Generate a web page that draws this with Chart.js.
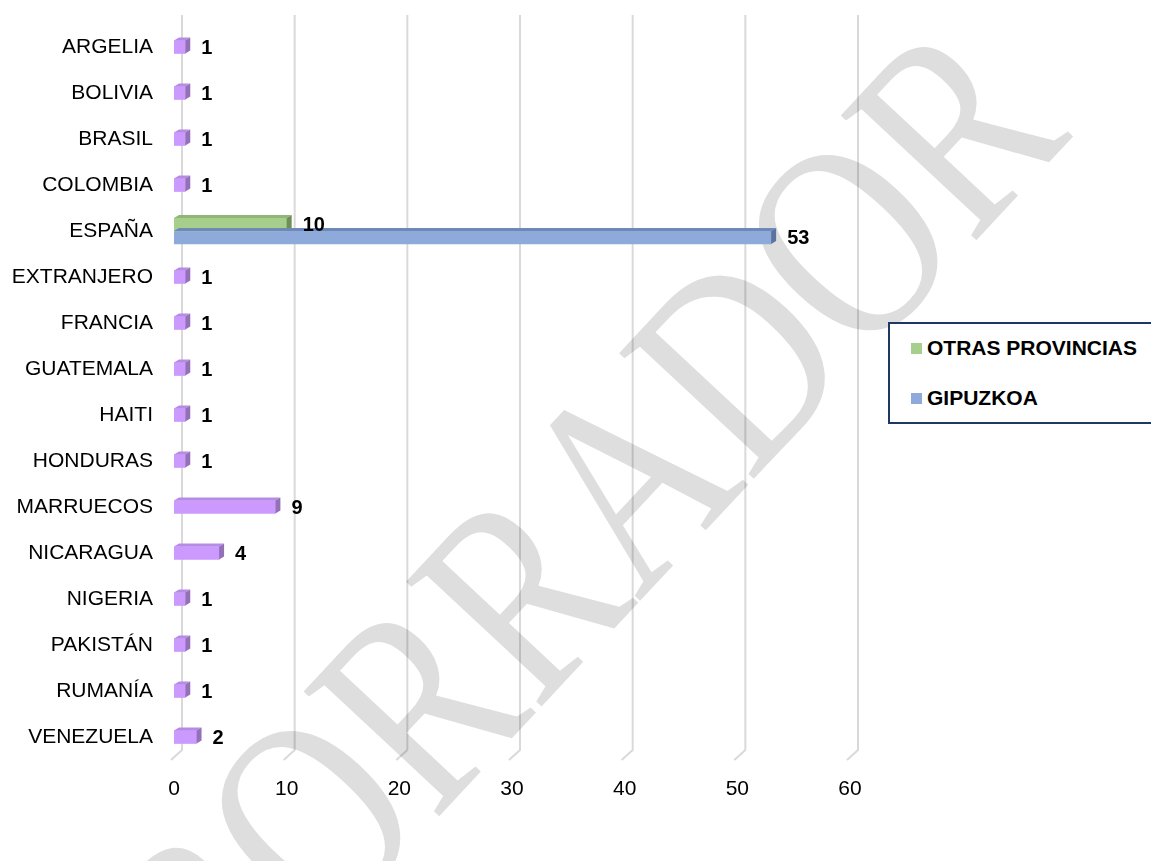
<!DOCTYPE html>
<html>
<head>
<meta charset="utf-8">
<script src="https://cdn.jsdelivr.net/npm/chart.js@4"></script>
<style>
html, body { margin: 0; padding: 0; background: #fff; }
#wrap { position: relative; width: 1151px; height: 861px; overflow: hidden; }
#marca {
	position: absolute; left: 578px; top: 529px;
	font-family: "Liberation Serif", "Times New Roman", serif;
	font-size: 225px; line-height: 1; color: #dedede; white-space: nowrap;
	transform: translate(-50%, -50%) rotate(-47deg) scaleY(1.25);
}
#grafico { position: absolute; left: 0; top: 0; }
#leyenda {
	position: absolute; left: 888px; top: 322px; width: 290px; height: 102px;
	box-sizing: border-box; border: 2px solid #1f3763; background: #fff;
	font: bold 21px "Liberation Sans", Arial, sans-serif; color: #000;
}
#leyenda .item { position: absolute; left: 21px; height: 24px; display: flex; align-items: center; white-space: nowrap; }
#leyenda .cuadro { width: 11px; height: 11px; margin-right: 5px; }
</style>
</head>
<body>
<div id="wrap">
	<div id="marca">BORRADOR</div>
	<canvas id="grafico" width="1151" height="861"></canvas>
	<div id="leyenda"></div>
</div>
<script>
//categorías (países)
const paises = ['ARGELIA', 'BOLIVIA', 'BRASIL', 'COLOMBIA', 'ESPAÑA', 'EXTRANJERO', 'FRANCIA', 'GUATEMALA',
	'HAITI', 'HONDURAS', 'MARRUECOS', 'NICARAGUA', 'NIGERIA', 'PAKISTÁN', 'RUMANÍA', 'VENEZUELA'];

//valores de cada serie (null = sin barra)
const otrasProvincias = [null, null, null, null, 10, null, null, null, null, null, null, null, null, null, null, null];
const gipuzkoa = [null, null, null, null, 53, null, null, null, null, null, null, null, null, null, null, null];
const extranjeros = [1, 1, 1, 1, null, 1, 1, 1, 1, 1, 9, 4, 1, 1, 1, 2];

//marcas del eje X
const ticksX = [0, 10, 20, 30, 40, 50, 60];

//colores: cara frontal, cara superior, cara lateral
const colorMorado = ['#cc99ff', '#b58be3', '#9470b8'];
const colorVerde = ['#a6cf8c', '#8fb676', '#6f8f59'];
const colorAzul = ['#8eaadb', '#6e88b8', '#5b739e'];

Chart.defaults.font.family = '"Liberation Sans", Arial, sans-serif';

//líneas de división al fondo con el suelo en perspectiva
const fondo3d = {
	id: 'fondo3d',
	beforeDatasetsDraw(chart) {
		const ctx = chart.ctx;
		const area = chart.chartArea;
		const xs = chart.scales.x;
		ctx.save();
		ctx.strokeStyle = 'rgba(0,0,0,0.15)';
		ctx.lineWidth = 2;
		ticksX.forEach(v => {
			const x = xs.getPixelForValue(v);
			ctx.beginPath();
			ctx.moveTo(x + 8, area.top - 9);
			ctx.lineTo(x + 8, area.bottom - 10);
			ctx.lineTo(x - 3, area.bottom);
			ctx.stroke();
		});
		ctx.restore();
	}
};

//caras superior y lateral de cada barra, y después las etiquetas de valor
const barras3d = {
	id: 'barras3d',
	afterDatasetsDraw(chart) {
		const ctx = chart.ctx;
		const etiquetas = [];
		ctx.save();
		chart.data.datasets.forEach((ds, i) => {
			const meta = chart.getDatasetMeta(i);
			meta.data.forEach((el, j) => {
				const v = ds.data[j];
				if (v === null) return;
				const p = el.getProps(['x', 'y', 'base', 'height'], true);
				const top = p.y - p.height / 2;
				const bottom = p.y + p.height / 2;
				const dx = 5, dy = 3;
				//cara superior
				ctx.fillStyle = ds.caras[1];
				ctx.beginPath();
				ctx.moveTo(p.base, top);
				ctx.lineTo(p.x, top);
				ctx.lineTo(p.x + dx, top - dy);
				ctx.lineTo(p.base + dx, top - dy);
				ctx.closePath();
				ctx.fill();
				//cara lateral
				ctx.fillStyle = ds.caras[2];
				ctx.beginPath();
				ctx.moveTo(p.x, top);
				ctx.lineTo(p.x + dx, top - dy);
				ctx.lineTo(p.x + dx, bottom - dy);
				ctx.lineTo(p.x, bottom);
				ctx.closePath();
				ctx.fill();
				etiquetas.push([String(v), p.x + 16, p.y + 1]);
			});
		});
		ctx.fillStyle = '#000';
		ctx.font = 'bold 20px "Liberation Sans", Arial, sans-serif';
		ctx.textAlign = 'left';
		ctx.textBaseline = 'middle';
		etiquetas.forEach(e => ctx.fillText(e[0], e[1], e[2]));
		ctx.restore();
	}
};

const ctx = document.getElementById('grafico');
const config = {
	type: 'bar',
	data: {
		labels: paises,
		datasets: [
			{ label: 'OTRAS PROVINCIAS', data: otrasProvincias, backgroundColor: colorVerde[0], caras: colorVerde },
			{ label: 'GIPUZKOA', data: gipuzkoa, backgroundColor: colorAzul[0], caras: colorAzul },
			{ label: '', data: extranjeros, backgroundColor: colorMorado[0], caras: colorMorado }
		]
	},
	options: {
		responsive: false,
		animation: false,
		devicePixelRatio: 1,
		indexAxis: 'y',
		datasets: { bar: { skipNull: true, barThickness: 13, borderWidth: 0 } },
		layout: { padding: { left: 10, right: 301, top: 24, bottom: 60 } },
		plugins: { legend: { display: false }, tooltip: { enabled: false } },
		scales: {
			x: {
				min: 0, max: 60,
				afterBuildTicks: s => { s.ticks = ticksX.map(v => ({ value: v })); },
				afterFit: s => { s.height = 41; },
				grid: { display: false, drawTicks: false },
				border: { display: false },
				ticks: { padding: 17, color: '#000', font: { size: 21 } }
			},
			y: {
				afterFit: s => { s.width = 164; s.paddingTop = 0; s.paddingBottom = 0; },
				grid: { display: false, drawTicks: false },
				border: { display: false },
				ticks: { padding: 21, color: '#000', font: { size: 21 } }
			}
		}
	},
	plugins: [fondo3d, barras3d]
};
const grafico = new Chart(ctx, config);

//leyenda con las series que tienen nombre
const leyenda = document.getElementById('leyenda');
grafico.data.datasets.filter(d => d.label).forEach((d, k) => {
	const item = document.createElement('div');
	item.className = 'item';
	item.style.top = (12 + k * 50) + 'px';
	const cuadro = document.createElement('span');
	cuadro.className = 'cuadro';
	cuadro.style.background = d.backgroundColor;
	item.appendChild(cuadro);
	item.appendChild(document.createTextNode(d.label));
	leyenda.appendChild(item);
});
</script>
</body>
</html>
